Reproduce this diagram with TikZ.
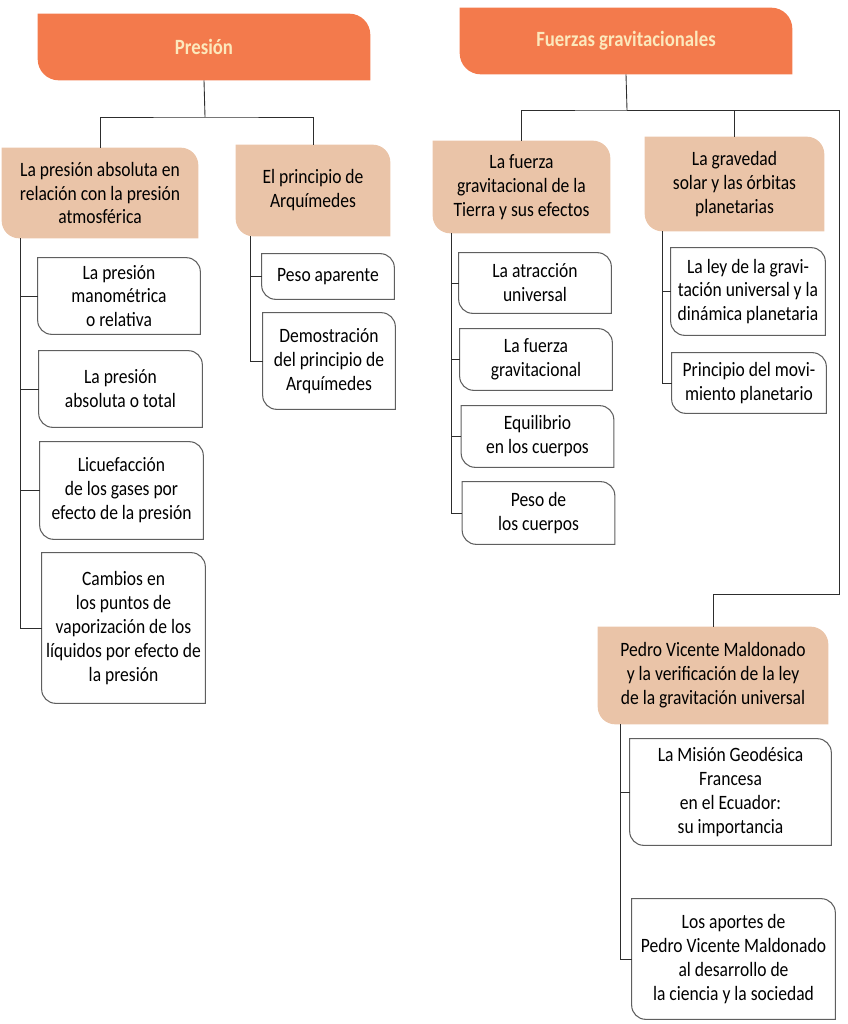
\documentclass[tikz,border=0pt]{standalone}
\usepackage{fontspec}
\setmainfont[FakeStretch=0.86]{Carlito}
\usetikzlibrary{backgrounds}

\definecolor{orangehead}{RGB}{243,122,76}
\definecolor{cream}{RGB}{252,232,188}
\definecolor{peach}{RGB}{234,196,168}
\definecolor{edgecol}{RGB}{95,95,95}
\definecolor{wirecol}{RGB}{45,45,45}

% box with rounded top-right and bottom-left corners
\newcommand{\tabshape}[3]{%
  \path[#3] (#1.north west) -- ([xshift=-#2]#1.north east)
    arc[start angle=90, end angle=0, radius=#2] -- (#1.south east)
    -- ([xshift=#2]#1.south west)
    arc[start angle=270, end angle=180, radius=#2] -- cycle;}

\begin{document}
\begin{tikzpicture}[x=0.02cm, y=-0.02cm, font=\fontsize{11.6}{13.6}\selectfont,
  leaf/.style={align=center, inner sep=0pt},
  head/.style={align=center, inner sep=0pt, text=cream, font=\fontsize{12.4}{14}\selectfont\bfseries},
  wire/.style={draw=wirecol, line width=0.5pt},
  leafline/.style={draw=edgecol, line width=0.6pt}]
\useasboundingbox (0,0) rectangle (848,1024);

% headers
\node[head, minimum width=6.64cm, minimum height=1.32cm] (presion) at (204,47) {Presión};
\node[head, minimum width=6.64cm, minimum height=1.32cm] (fuerzas) at (626,41) {Fuerzas gravitacionales};

% second level
\node[leaf, minimum width=3.92cm, minimum height=1.8cm] (pa) at (100,193) {La presión absoluta en\\relación con la presión\\atmosférica};
\node[leaf, minimum width=3.08cm, minimum height=1.82cm] (pb) at (313,190.5) {El principio de\\Arquímedes};
\node[leaf, minimum width=3.54cm, minimum height=1.84cm] (tierra) at (521.5,187) {La fuerza\\gravitacional de la\\Tierra y sus efectos};
\node[leaf, minimum width=3.58cm, minimum height=1.88cm] (grav) at (734.5,184) {La gravedad\\solar y las órbitas\\planetarias};
\node[leaf, minimum width=4.6cm, minimum height=1.94cm] (pedro) at (713,675.5) {Pedro Vicente Maldonado\\y la verificación de la ley\\de la gravitación universal};

% leaves
\foreach \n/\x/\y/\w/\h/\txt in {
  p1/119/296/3.24/1.52/{La presión\\manométrica\\o relativa},
  p2/120.5/389/3.26/1.52/{La presión\\absoluta o total},
  p3/121.5/490.5/3.26/1.94/{Licuefacción\\de los gases por\\efecto de la presión},
  p4/123.5/628/3.26/3.0/{Cambios en\\los puntos de\\vaporización de los\\líquidos por efecto de\\la presión},
  q1/328/276.5/2.64/0.9/{Peso aparente},
  q2/329/361/2.64/1.92/{Demostración\\del principio de\\Arquímedes},
  t1/535/283/3.04/1.2/{La atracción\\universal},
  t2/536/359.5/3.04/1.22/{La fuerza\\gravitacional},
  t3/537.5/436.5/3.04/1.22/{Equilibrio\\en los cuerpos},
  t4/538.5/513/3.04/1.24/{Peso de\\los cuerpos},
  g1/748/291.5/3.08/1.74/{La ley de la gravi-\\tación universal y la\\dinámica planetaria},
  g2/749/383/3.08/1.2/{Principio del movi-\\miento planetario},
  m1/730.5/792/4.02/2.12/{La Misión Geodésica\\Francesa\\en el Ecuador:\\su importancia},
  m2/733.5/959/4.06/2.4/{Los aportes de\\Pedro Vicente Maldonado\\al desarrollo de\\la ciencia y la sociedad}}
  \node[leaf, minimum width=\w cm, minimum height=\h cm] (\n) at (\x,\y) {\txt};

% box outlines
\begin{scope}[on background layer]
\foreach \n in {presion,fuerzas} {\tabshape{\n}{12pt}{fill=orangehead}}
\foreach \n in {pa,pb,tierra,grav,pedro} {\tabshape{\n}{10pt}{fill=peach}}
\end{scope}
\foreach \n in {p1,p2,p3,p4,q1,q2,t1,t2,t3,t4,g1,g2,m1,m2} {\tabshape{\n}{8pt}{leafline}}

% top connectors
\coordinate (hub1) at (205,117);
\coordinate (hub2) at (627,110);
\coordinate (rail) at (839,594);
\draw[wire] (presion.south) -- (hub1);
\draw[wire] (pa.north) |- (hub1) -| (pb.north);
\draw[wire] (fuerzas.south) -- (hub2);
\draw[wire] (tierra.north) |- (hub2) -| (grav.north);
\draw[wire] (hub2) -| (rail) -| (pedro.north);

% spines
\coordinate (sa) at (20,238);
\coordinate (sb) at (250,236);
\coordinate (st) at (451,233);
\coordinate (sg) at (662,231);
\coordinate (sm) at (620,724);
\draw[wire] (sa) |- (p4.west);
\foreach \i in {1,2,3} \draw[wire] (p\i.west) -- (p\i.west -| sa);
\draw[wire] (sb) |- (q2.west);
\draw[wire] (q1.west) -- (q1.west -| sb);
\draw[wire] (st) |- (t4.west);
\foreach \i in {1,2,3} \draw[wire] (t\i.west) -- (t\i.west -| st);
\draw[wire] (sg) |- (g2.west);
\draw[wire] (g1.west) -- (g1.west -| sg);
\draw[wire] (sm) |- (m2.west);
\draw[wire] (m1.west) -- (m1.west -| sm);
\end{tikzpicture}
\end{document}
